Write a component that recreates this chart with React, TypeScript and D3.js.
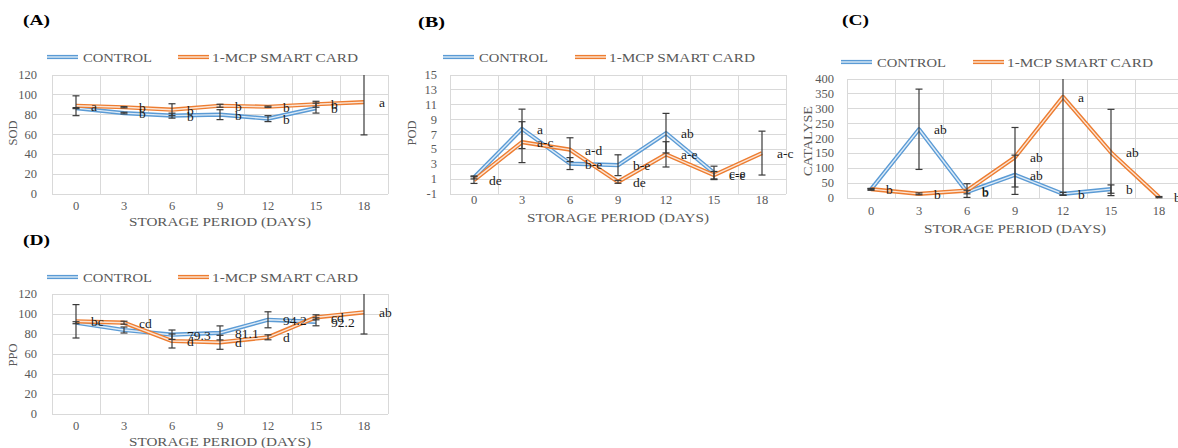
import React from "react";
import * as d3 from "d3";

// ---------- data ----------
const days = ["0", "3", "6", "9", "12", "15", "18"];

const sodTicks = [0, 20, 40, 60, 80, 100, 120];
const podTicks = [-1, 1, 3, 5, 7, 9, 11, 13, 15];
const catTicks = [0, 50, 100, 150, 200, 250, 300, 350, 400];
const ppoTicks = [0, 20, 40, 60, 80, 100, 120];

const sodControl = [86.6, 81.6, 79, 80, 76, 86.6, null];
const sodMcp = [89, 87.5, 85, 89, 88, 90.5, 92.6];
const sodControlErr = [0.5, 0.8, 2.5, 5, 3, 5, 0];
const sodMcpErr = [10, 0.6, 6, 1.5, 0.6, 3, 33];
const sodControlLetters = ["", "b", "b", "b", "b", "b", ""];
const sodMcpLetters = ["a", "b", "b", "b", "b", "b", "a"];

const podControl = [1.23, 7.76, 3.09, 2.87, 7.18, 1.84, null];
const podMcp = [0.87, 5.97, 4.96, 0.64, 4.33, 1.53, 4.5];
const podControlErr = [0.2, 2.65, 0.8, 1.4, 2.66, 0.9, 0];
const podMcpErr = [0.45, 2.75, 1.6, 0.2, 1.7, 0.5, 2.95];
const podControlLetters = ["", "a", "b-e", "b-e", "ab", "c-e", ""];
const podMcpLetters = ["de", "a-c", "a-d", "de", "a-e", "c-e", "a-c"];

const catControl = [29, 231, 20, 78, 14, 30, null];
const catMcp = [30, 14, 25, 137, 340, 153, 3];
const catControlErr = [3, 135, 6, 66, 5, 14, 0];
const catMcpErr = [2, 3, 23, 100, 330, 145, 2];
const catControlLetters = ["", "ab", "b", "ab", "b", "b", ""];
const catMcpLetters = ["b", "b", "b", "ab", "a", "ab", "b"];

const ppoControl = [91.3, 84, 79.3, 81.1, 94.2, 92.2, null];
const ppoMcp = [92.7, 91.3, 73, 71.7, 76.7, 96.7, 101.7];
const ppoControlErr = [1, 3, 4.7, 7, 8, 4, 0];
const ppoMcpErr = [16.7, 1.5, 7, 7, 2.5, 2.5, 21.7];
const ppoControlLetters = ["", "", "79.3", "81.1", "94.2", "92.2", ""];
const ppoMcpLetters = ["bc", "cd", "d", "d", "d", "cd", "ab"];

const seriesNames = ["CONTROL", "1-MCP SMART CARD"];
const xTitle = "STORAGE PERIOD (DAYS)";

// ---------- style ----------
const FONT = "'Liberation Serif', 'Times New Roman', serif";
const BLUE = "#5B9BD5";
const BLUE_IN = "#DDEBF7";
const ORANGE = "#ED7D31";
const ORANGE_IN = "#FBE5D6";
const GRID = "#d9d9d9";
const TXT = "#595959";

type Cfg = {
  title: string; titleX: number; titleY: number;
  left: number; right: number; top: number; bottom: number;
  domain: [number, number]; ticks: number[];
  yLabel: string; yLabelX: number; yLabelY: number; yLabelLen?: number;
  yTickX: number; xTickY: number; xLabelY: number;
  legendY: number; leg: { bx: number; tx1: number; ox: number; tx2: number };
  control: (number | null)[]; mcp: (number | null)[];
  controlErr: number[]; mcpErr: number[];
  controlLetters: string[]; mcpLetters: string[];
};

const panels: Cfg[] = [
  {
    title: "(A)", titleX: 23, titleY: 25, left: 52, right: 388, top: 75, bottom: 194,
    domain: [0, 120], ticks: sodTicks, yLabel: "SOD", yLabelX: 13, yLabelY: 133,
    yTickX: 37, xTickY: 210, xLabelY: 226, legendY: 57,
    leg: { bx: 47, tx1: 83, ox: 178, tx2: 212 },
    control: sodControl, mcp: sodMcp, controlErr: sodControlErr, mcpErr: sodMcpErr,
    controlLetters: sodControlLetters, mcpLetters: sodMcpLetters,
  },
  {
    title: "(B)", titleX: 418, titleY: 27, left: 450, right: 786, top: 75, bottom: 194,
    domain: [-1, 15], ticks: podTicks, yLabel: "POD", yLabelX: 412, yLabelY: 133,
    yTickX: 437, xTickY: 204, xLabelY: 222, legendY: 57,
    leg: { bx: 443, tx1: 479, ox: 575, tx2: 609 },
    control: podControl, mcp: podMcp, controlErr: podControlErr, mcpErr: podMcpErr,
    controlLetters: podControlLetters, mcpLetters: podMcpLetters,
  },
  {
    title: "(C)", titleX: 842, titleY: 25, left: 847, right: 1183, top: 79, bottom: 198,
    domain: [0, 400], ticks: catTicks, yLabel: "CATALYSE", yLabelX: 808, yLabelY: 141, yLabelLen: 70,
    yTickX: 834, xTickY: 215, xLabelY: 233, legendY: 62,
    leg: { bx: 841, tx1: 877, ox: 973, tx2: 1007 },
    control: catControl, mcp: catMcp, controlErr: catControlErr, mcpErr: catMcpErr,
    controlLetters: catControlLetters, mcpLetters: catMcpLetters,
  },
  {
    title: "(D)", titleX: 23, titleY: 245, left: 52, right: 388, top: 294, bottom: 414,
    domain: [0, 120], ticks: ppoTicks, yLabel: "PPO", yLabelX: 13, yLabelY: 355,
    yTickX: 37, xTickY: 430, xLabelY: 446, legendY: 277,
    leg: { bx: 47, tx1: 83, ox: 178, tx2: 212 },
    control: ppoControl, mcp: ppoMcp, controlErr: ppoControlErr, mcpErr: ppoMcpErr,
    controlLetters: ppoControlLetters, mcpLetters: ppoMcpLetters,
  },
];

function DoubleLine({ d, outer, inner }: { d: string; outer: string; inner: string }) {
  return (
    <g fill="none" strokeLinejoin="round">
      <path d={d} stroke={outer} strokeWidth={4.2} />
      <path d={d} stroke={inner} strokeWidth={1.4} />
    </g>
  );
}

function Panel({ c }: { c: Cfg }) {
  const x = d3.scaleBand<string>().domain(days).range([c.left, c.right]).padding(0);
  const bw = x.bandwidth();
  const cx = (d: string) => (x(d) as number) + bw / 2;
  const y = d3.scaleLinear().domain(c.domain).range([c.bottom, c.top]);
  const clampY = (v: number) => y(Math.max(c.domain[0], Math.min(c.domain[1], v)));

  const line = d3
    .line<number | null>()
    .defined((v) => v != null)
    .x((_, i) => cx(days[i]))
    .y((v) => y(v as number));

  const errBars = (vals: (number | null)[], errs: number[], key: string) =>
    vals.map((v, i) => {
      if (v == null || !errs[i]) return null;
      const xc = cx(days[i]);
      const y1 = clampY(v + errs[i]);
      const y2 = clampY(v - errs[i]);
      const topCap = v + errs[i] <= c.domain[1];
      return (
        <g key={key + i} stroke="#3a3a3a" strokeWidth={1.2}>
          <line x1={xc} x2={xc} y1={y1} y2={y2} />
          {topCap && <line x1={xc - 3.5} x2={xc + 3.5} y1={y1} y2={y1} />}
          <line x1={xc - 3.5} x2={xc + 3.5} y1={y2} y2={y2} />
        </g>
      );
    });

  const letters = (vals: (number | null)[], labs: string[], key: string) =>
    vals.map((v, i) =>
      v == null || !labs[i] ? null : (
        <text
          key={key + i}
          x={cx(days[i]) + 15}
          y={y(v) + 5}
          fontSize={13.5}
          fill="#1a1a1a"
          fontFamily={FONT}
        >
          {labs[i]}
        </text>
      )
    );

  const edges = [...days.map((d) => x(d) as number), c.right];

  return (
    <g>
      <text x={c.titleX} y={c.titleY} fontSize={15} fontWeight="bold" fontFamily={FONT}
        textLength={27} lengthAdjust="spacingAndGlyphs" fill="#000">
        {c.title}
      </text>

      {/* legend */}
      <g>
        <DoubleLine d={`M${c.leg.bx},${c.legendY}H${c.leg.bx + 31}`} outer={BLUE} inner={BLUE_IN} />
        <text x={c.leg.tx1} y={c.legendY + 4.5} fontSize={12.5} fill={TXT} fontFamily={FONT}
          textLength={69} lengthAdjust="spacingAndGlyphs">{seriesNames[0]}</text>
        <DoubleLine d={`M${c.leg.ox},${c.legendY}H${c.leg.ox + 31}`} outer={ORANGE} inner={ORANGE_IN} />
        <text x={c.leg.tx2} y={c.legendY + 4.5} fontSize={12.5} fill={TXT} fontFamily={FONT}
          textLength={146} lengthAdjust="spacingAndGlyphs">{seriesNames[1]}</text>
      </g>

      {/* grid */}
      <g stroke={GRID} strokeWidth={1} shapeRendering="crispEdges">
        {c.ticks.map((t) => (
          <line key={"h" + t} x1={c.left} x2={c.right} y1={y(t)} y2={y(t)} />
        ))}
        {edges.map((e, i) => (
          <line key={"v" + i} x1={e} x2={e} y1={c.top} y2={c.bottom} />
        ))}
      </g>

      {/* y ticks */}
      {c.ticks.map((t) => (
        <text key={"yt" + t} x={c.yTickX} y={y(t) + 4} textAnchor="end" fontSize={12.5}
          fill={TXT} fontFamily={FONT}>
          {t}
        </text>
      ))}
      {/* x ticks */}
      {days.map((d) => (
        <text key={"xt" + d} x={cx(d)} y={c.xTickY} textAnchor="middle" fontSize={12.5}
          fill={TXT} fontFamily={FONT}>
          {d}
        </text>
      ))}

      <text x={(c.left + c.right) / 2} y={c.xLabelY} textAnchor="middle" fontSize={12.5}
        fill={TXT} fontFamily={FONT} textLength={182} lengthAdjust="spacingAndGlyphs">
        {xTitle}
      </text>
      <text
        transform={`translate(${c.yLabelX + 4},${c.yLabelY}) rotate(-90)`}
        textAnchor="middle" fontSize={12.5} fill={TXT} fontFamily={FONT}
        {...(c.yLabelLen ? { textLength: c.yLabelLen, lengthAdjust: "spacingAndGlyphs" } : {})}
      >
        {c.yLabel}
      </text>

      {/* lines */}
      <DoubleLine d={line(c.control) || ""} outer={BLUE} inner={BLUE_IN} />
      <DoubleLine d={line(c.mcp) || ""} outer={ORANGE} inner={ORANGE_IN} />

      {errBars(c.control, c.controlErr, "ec")}
      {errBars(c.mcp, c.mcpErr, "em")}

      {letters(c.control, c.controlLetters, "lc")}
      {letters(c.mcp, c.mcpLetters, "lm")}
    </g>
  );
}

export default function App() {
  return (
    <svg
      width={1178}
      height={448}
      style={{ position: "absolute", left: 0, top: 0, background: "#fff" }}
    >
      <rect width={1178} height={448} fill="#fff" />
      {panels.map((p) => (
        <Panel key={p.title} c={p} />
      ))}
    </svg>
  );
}
